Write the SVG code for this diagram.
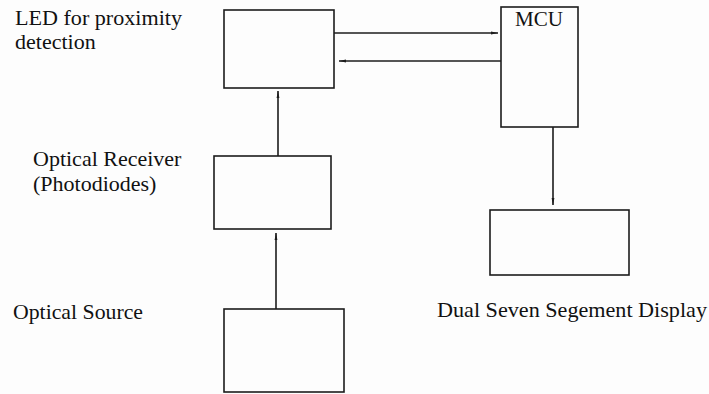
<svg xmlns="http://www.w3.org/2000/svg" width="709" height="394" viewBox="0 0 709 394">
  <style>
    .box { fill: none; stroke: #1c1c1c; stroke-width: 1.6; }
    .wire { fill: none; stroke: #1c1c1c; stroke-width: 1.6; }
    .lbl { font-family: "Liberation Serif", "Times New Roman", serif; font-size: 22px; fill: #111; }
  </style>
  <defs>
    <marker id="tip" markerWidth="8" markerHeight="6" refX="7" refY="3" orient="auto" markerUnits="userSpaceOnUse">
      <path d="M0,1.6 L7,3 L0,4.4 Z" fill="#1c1c1c"/>
    </marker>
  </defs>
  <rect width="709" height="394" fill="#fdfdfd"/>

  <g id="led">
    <rect class="box" x="224" y="10" width="110" height="78"/>
    <text class="lbl" x="15" y="25" textLength="167" lengthAdjust="spacingAndGlyphs">LED for proximity</text>
    <text class="lbl" x="15" y="49">detection</text>
  </g>

  <g id="mcu">
    <rect class="box" x="501" y="7" width="77" height="120"/>
    <text class="lbl" x="515" y="26" textLength="48" lengthAdjust="spacingAndGlyphs">MCU</text>
  </g>

  <g id="receiver">
    <rect class="box" x="214" y="156" width="117" height="73"/>
    <text class="lbl" x="33" y="166">Optical Receiver</text>
    <text class="lbl" x="33" y="191">(Photodiodes)</text>
  </g>

  <g id="source">
    <rect class="box" x="224" y="309" width="120" height="83"/>
    <text class="lbl" x="13" y="319" textLength="130" lengthAdjust="spacingAndGlyphs">Optical Source</text>
  </g>

  <g id="display">
    <rect class="box" x="490" y="210" width="139" height="65"/>
    <text class="lbl" x="437" y="317" textLength="270" lengthAdjust="spacingAndGlyphs">Dual Seven Segement Display</text>
  </g>

  <g id="connectors">
    <line class="wire" x1="334" y1="33" x2="498" y2="33" marker-end="url(#tip)"/>
    <line class="wire" x1="501" y1="61" x2="339" y2="61" marker-end="url(#tip)"/>
    <line class="wire" x1="278" y1="156" x2="278" y2="91" marker-end="url(#tip)"/>
    <line class="wire" x1="276" y1="309" x2="276" y2="233" marker-end="url(#tip)"/>
    <line class="wire" x1="553" y1="127" x2="553" y2="205" marker-end="url(#tip)"/>
  </g>
</svg>
